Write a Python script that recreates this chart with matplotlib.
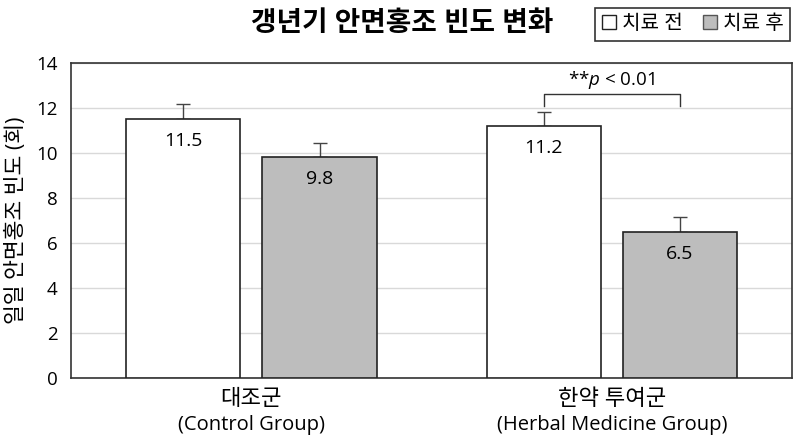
import numpy as np
import matplotlib
matplotlib.use('Agg')
import matplotlib.pyplot as plt
from matplotlib.patches import Patch

plt.rcParams['font.family'] = ['Open Sans', 'Noto Sans CJK KR', 'DejaVu Sans']
plt.rcParams['mathtext.fontset'] = 'custom'
plt.rcParams['mathtext.it'] = 'Open Sans:italic'

groups_kr = ['대조군', '한약 투여군']
groups_en = ['(Control Group)', '(Herbal Medicine Group)']
before = [11.5, 11.2]
after = [9.8, 6.5]
before_err = [0.65, 0.6]
after_err = [0.65, 0.65]
series_names = ['치료 전', '치료 후']

fig = plt.figure(figsize=(8, 4.36), dpi=100)
ax = fig.add_axes([0.089, 0.133, 0.901, 0.723])

x = np.arange(len(groups_kr))
w = 0.317
off = 0.189
bars1 = ax.bar(x - off, before, w, color='white', edgecolor='#222222', linewidth=1.2, zorder=3)
bars2 = ax.bar(x + off, after, w, color='#bdbdbd', edgecolor='#222222', linewidth=1.2, zorder=3)
ax.errorbar(x - off, before, yerr=[np.zeros(2), before_err], fmt='none', ecolor='#444444',
            elinewidth=1, capsize=5, capthick=1, zorder=2)
ax.errorbar(x + off, after, yerr=[np.zeros(2), after_err], fmt='none', ecolor='#444444',
            elinewidth=1, capsize=5, capthick=1, zorder=2)

for bars, vals in ((bars1, before), (bars2, after)):
    for b, v in zip(bars, vals):
        ax.text(b.get_x() + b.get_width() / 2, v - 0.98, f'{v}', ha='center', va='center',
                fontsize=14, zorder=4)

# significance bracket
x1, x2 = x[1] - off, x[1] + off
ax.plot([x1, x1, x2, x2], [12.1, 12.6, 12.6, 12.1], color='#333333', lw=1, zorder=4)
ax.text(x[1], 12.75, '**$\\it{p}$ < 0.01', ha='center', va='bottom', fontsize=13.5)

ax.set_xlim(-0.5, 1.5)
ax.set_ylim(0, 14)
ax.set_yticks(np.arange(0, 15, 2))
ax.set_xticks(x)
ax.set_xticklabels([])
ax.tick_params(axis='both', length=0, pad=8)
ax.tick_params(axis='y', labelsize=13.5, pad=10)
ax.yaxis.grid(True, color='#d9d9d9', lw=1, zorder=0)
ax.set_axisbelow(True)
for s in ax.spines.values():
    s.set_color('#333333')
    s.set_linewidth(1.2)
ax.set_ylabel('일일 안면홍조 빈도 (회)', fontsize=15.5, labelpad=6)

# two-line category labels (Korean glyphs need a larger size to match)
trans = ax.get_xaxis_transform()
for xi, kr, en in zip(x, groups_kr, groups_en):
    ax.text(xi, -0.068, kr, transform=trans, ha='center', va='center', fontsize=16)
    ax.text(xi, -0.148, en, transform=trans, ha='center', va='center', fontsize=14.5)

fig.text(0.503, 0.945, '갱년기 안면홍조 빈도 변화', ha='center', va='center',
         fontsize=20, fontweight='bold')

handles = [Patch(facecolor='white', edgecolor='#222222'),
           Patch(facecolor='#bdbdbd', edgecolor='#555555')]
leg = fig.legend(handles, series_names, loc='upper right', bbox_to_anchor=(0.9875, 0.982),
                 ncol=2, fontsize=14.5, frameon=True, fancybox=False, handlelength=0.7,
                 handleheight=0.7, handletextpad=0.3, columnspacing=1.0, borderpad=0.32,
                 borderaxespad=0)
leg.get_frame().set_edgecolor('black')
leg.get_frame().set_linewidth(1.2)

fig.savefig('out.png', dpi=100)
